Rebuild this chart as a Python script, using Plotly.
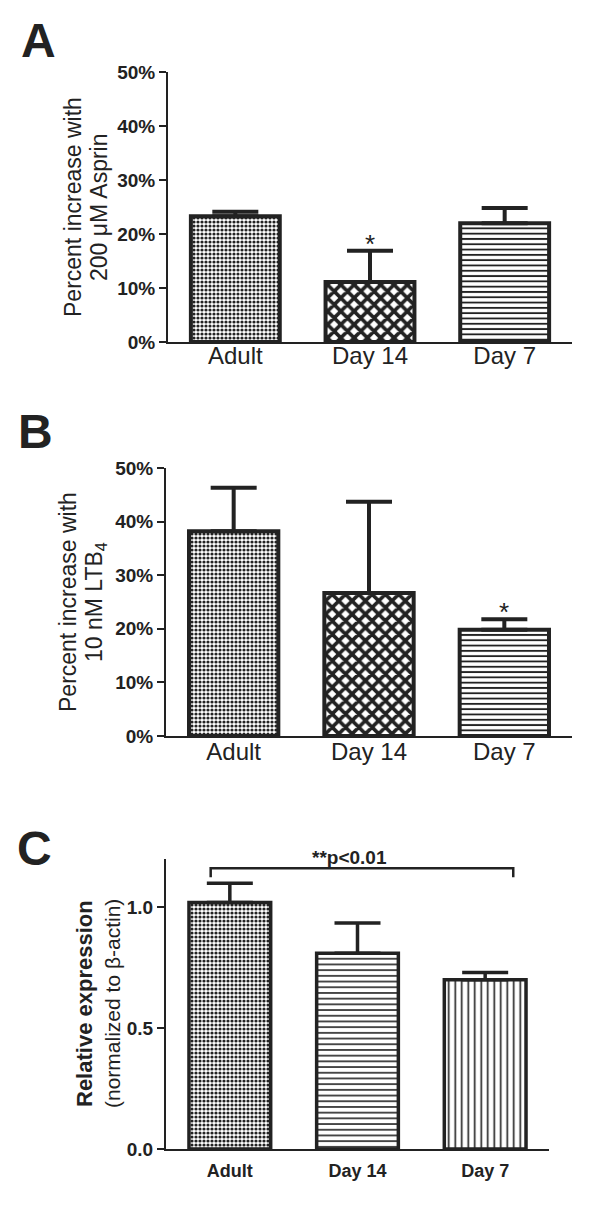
import plotly.graph_objects as go

# ---------------- data ----------------
categories = ["Adult", "Day 14", "Day 7"]

aspirin_mean = [23.3, 11.1, 22.0]     # % increase with 200 uM Aspirin
aspirin_sem = [0.8, 5.8, 2.8]

ltb4_mean = [38.2, 26.7, 19.8]        # % increase with 10 nM LTB4
ltb4_sem = [8.1, 17.0, 2.0]

expr_mean = [1.02, 0.81, 0.70]        # relative expression
expr_sem = [0.08, 0.125, 0.03]

pct_ticks = [0, 10, 20, 30, 40, 50]
expr_ticks = [0.0, 0.5, 1.0]

bracket_span = [-0.15, 2.22]          # significance bracket extent (category units)
bracket_level = [1.124, 1.162]

# ---------------- helpers ----------------
PAGE_PAD = 8                 # default body margin of the html page
W, H = 600 - PAGE_PAD, 1221 - PAGE_PAD
def fx(px):
    return (px - PAGE_PAD) / W
def fy(py):
    return 1 - (py - PAGE_PAD) / H

FONT = "Liberation Sans, Arial, sans-serif"
INK = "#222222"
pos = list(range(len(categories)))

fig = go.Figure()

def add_bars(mean, sem, xa, ya, shapes, sizes, solid, width, lw, ew):
    fig.add_trace(go.Bar(
        x=pos, y=mean, xaxis=xa, yaxis=ya, width=width,
        marker=dict(color="white",
                    line=dict(color=INK, width=lw),
                    pattern=dict(shape=shapes, size=sizes, solidity=solid,
                                 fgcolor=INK, bgcolor="white", fillmode="replace")),
        error_y=dict(type="data", array=sem, arrayminus=[0] * len(sem),
                     symmetric=False, color=INK, thickness=ew, width=23),
        showlegend=False, hoverinfo="skip"))

add_bars(aspirin_mean, aspirin_sem, "x", "y",
         [".", "x", "-"], [4, 9.4, 5.3], [0.5, 0.62, 0.35], 0.66, 4, 4)
add_bars(ltb4_mean, ltb4_sem, "x2", "y2",
         [".", "x", "-"], [4, 9.4, 5.3], [0.5, 0.62, 0.35], 0.66, 4, 4)
add_bars(expr_mean, expr_sem, "x3", "y3",
         [".", "-", "|"], [4, 5.7, 6.5], [0.5, 0.28, 0.25], 0.64, 3.5, 3.5)

# significance bracket in panel C (drawn through axis scales)
fig.add_trace(go.Scatter(
    x=[bracket_span[0], bracket_span[0], bracket_span[1], bracket_span[1]],
    y=[bracket_level[0], bracket_level[1], bracket_level[1], bracket_level[0]],
    xaxis="x3", yaxis="y3", mode="lines",
    line=dict(color=INK, width=2.5), showlegend=False, hoverinfo="skip"))

tick_bold = dict(family=FONT, size=19, color=INK, weight="bold")

def xaxis_cfg(domain, anchor, font, standoff):
    return dict(domain=domain, anchor=anchor, automargin=False,
                range=[-0.5, 2.5], tickvals=pos, ticktext=categories,
                showline=True, linecolor=INK, linewidth=2,
                ticks="", showgrid=False, zeroline=False, tickfont=font,
                ticklabelstandoff=standoff, fixedrange=True)

def yaxis_cfg(domain, anchor, rng, tickvals, ticktext):
    return dict(domain=domain, anchor=anchor, automargin=False, range=rng,
                showline=True, linecolor=INK, linewidth=2, ticks="outside",
                ticklen=7, tickwidth=2, tickcolor=INK, tickvals=tickvals,
                ticktext=ticktext, showgrid=False, zeroline=False,
                tickfont=tick_bold, fixedrange=True)

cat_font = dict(family=FONT, size=24, color=INK)
cat_font_c = dict(family=FONT, size=18, color=INK, weight="bold")

fig.update_layout(
    template="none",
    width=W, height=H, autosize=False,
    margin=dict(l=0, r=0, t=0, b=0, pad=0),
    paper_bgcolor="white", plot_bgcolor="white",
    xaxis=xaxis_cfg([fx(168), fx(572)], "y", cat_font, -9),
    yaxis=yaxis_cfg([fy(342), fy(72)], "x", [0, 50], pct_ticks,
                    [f"{t}%" for t in pct_ticks]),
    xaxis2=xaxis_cfg([fx(166), fx(572)], "y2", cat_font, -7),
    yaxis2=yaxis_cfg([fy(736), fy(468)], "x2", [0, 50], pct_ticks,
                     [f"{t}%" for t in pct_ticks]),
    xaxis3=xaxis_cfg([fx(166), fx(549)], "y3", cat_font_c, 4),
    yaxis3=yaxis_cfg([fy(1149), fy(859)], "x3", [0, 1.2], expr_ticks,
                     [f"{t:.1f}" for t in expr_ticks]),
)

ann = []
def label(text, x, y, size, bold=False, angle=0, xanchor="center", yanchor="middle"):
    f = dict(family=FONT, size=size, color=INK)
    if bold:
        f["weight"] = "bold"
    ann.append(dict(text=text, x=fx(x), y=fy(y), xref="paper", yref="paper",
                    showarrow=False, font=f, textangle=angle,
                    xanchor=xanchor, yanchor=yanchor))

# panel letters
label("A", 38, 40, 48, bold=True)
label("B", 35, 432, 48, bold=True)
label("C", 34, 848, 48, bold=True)

# y-axis titles
label("Percent increase with", 73, 207, 23, angle=-90)
label("200 \u03bcM Asprin", 99, 207, 23, angle=-90)
label("Percent increase with", 68, 602, 23, angle=-90)
label("10 nM LTB<sub>4</sub>", 95, 602, 23, angle=-90)
label("Relative expression", 84, 1004, 22, bold=True, angle=-90)
label("(normalized to \u03b2-actin)", 112, 1004, 21, angle=-90)

# significance text in C
label("**p<0.01", 349, 857, 19, bold=True)

# stars (placed relative to error-bar tops, through data scales)
ann.append(dict(text="*", x=pos[1], y=aspirin_mean[1] + aspirin_sem[1],
                xref="x", yref="y", showarrow=False, yanchor="bottom", yshift=-10,
                font=dict(family=FONT, size=26, color=INK)))
ann.append(dict(text="*", x=pos[2], y=ltb4_mean[2] + ltb4_sem[2],
                xref="x2", yref="y2", showarrow=False, yanchor="bottom", yshift=-10,
                font=dict(family=FONT, size=26, color=INK)))

fig.update_layout(annotations=ann)

fig.write_html("out.html")
